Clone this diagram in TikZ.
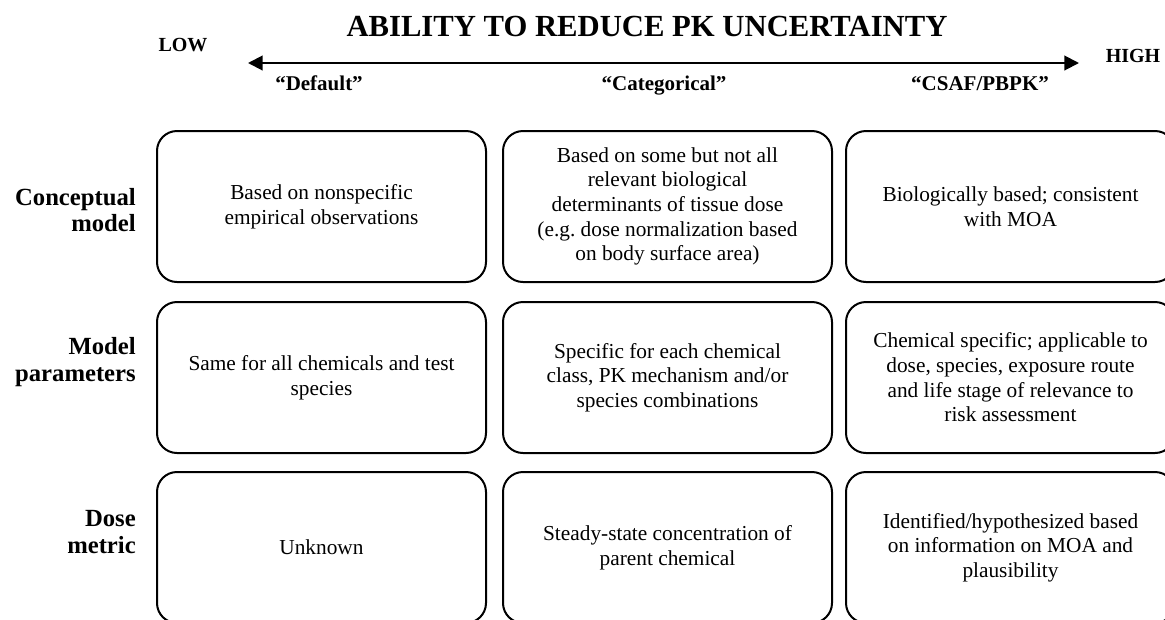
\documentclass[tikz,border=0pt]{standalone}
\usepackage{fontspec}
\setmainfont{Liberation Serif}
\usetikzlibrary{arrows.meta}
\frenchspacing

\begin{document}
\begin{tikzpicture}[x=0.75pt,y=0.75pt]
\tikzstyle{every node}+=[inner sep=0pt]
\tikzstyle{cell}=[draw=black, line width=1.5pt, rounded corners=15pt, minimum width=246.75pt, minimum height=113.25pt, align=center, font=\fontsize{16}{18.5}\selectfont]
\tikzstyle{rowlabel}=[anchor=east, align=right, font=\fontsize{18.5}{20}\selectfont\bfseries]
\tikzstyle{endlabel}=[font=\fontsize{15}{18}\selectfont\bfseries]
\tikzstyle{catlabel}=[anchor=base, font=\fontsize{15.75}{18}\selectfont\bfseries]
\useasboundingbox (0,0) rectangle (1165,-619);
\clip (0,0) rectangle (1165,-619);
% heading and scale
\node [font=\fontsize{23}{26}\selectfont\bfseries] (title) at (647,-26) {ABILITY TO REDUCE PK UNCERTAINTY};
\node [endlabel] (low) at (183,-45) {LOW};
\node [endlabel] (high) at (1133,-56) {HIGH};
\coordinate (lowtip) at (248,-63);
\coordinate (hightip) at (1079,-63);
\draw [black, line width=1.5pt, {Triangle[length=11pt,width=11pt]}-{Triangle[length=11pt,width=11pt]}] (lowtip) -- (hightip);
\node [catlabel] (default) at (319,-90) {“Default”};
\node [catlabel] (categorical) at (664,-90) {“Categorical”};
\node [catlabel] (csaf) at (980,-90) {“CSAF/PBPK”};
% row labels
\node [rowlabel] (conceptual) at (136,-210) {Conceptual\\model};
\node [rowlabel] (parameters) at (136,-362) {Model\\parameters};
\node [rowlabel] (dosemetric) at (136,-532) {Dose\\metric};
% conceptual model
\node [cell] (concdef) at (321.5,-206.5) {Based on nonspecific\\empirical observations};
\node [cell] (conccat) at (667.5,-206.5) {Based on some but not all\\relevant biological\\determinants of tissue dose\\(e.g. dose normalization based\\on body surface area)};
\node [cell] (conccsaf) at (1010.5,-206.5) {Biologically based; consistent\\with MOA};
% model parameters
\node [cell] (pardef) at (321.5,-377.5) {Same for all chemicals and test\\species};
\node [cell] (parcat) at (667.5,-377.5) {Specific for each chemical\\class, PK mechanism and/or\\species combinations};
\node [cell] (parcsaf) at (1010.5,-377.5) {Chemical specific; applicable to\\dose, species, exposure route\\and life stage of relevance to\\risk assessment};
% dose metric
\node [cell] (dosedef) at (321.5,-547.5) {Unknown};
\node [cell] (dosecat) at (667.5,-547.5) {Steady-state concentration of\\parent chemical};
\node [cell] (dosecsaf) at (1010.5,-547.5) {Identified/hypothesized based\\on information on MOA and\\plausibility};
\end{tikzpicture}
\end{document}
